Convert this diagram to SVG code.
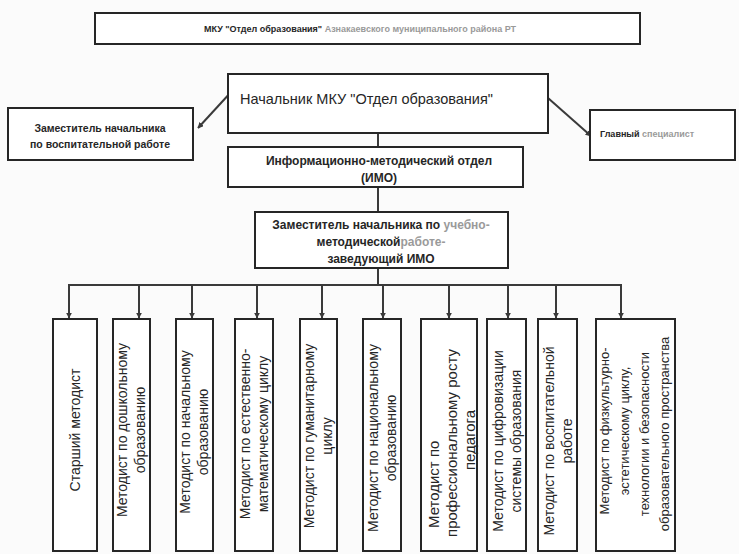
<svg xmlns="http://www.w3.org/2000/svg" width="739" height="554" viewBox="0 0 739 554">
<style>
.box{fill:#ffffff;stroke:#262626;stroke-width:2}
.t{font-family:"Liberation Sans",Arial,sans-serif;fill:#262626}
.b{font-weight:bold}
.g{fill:#9a9a9a}
.v{font-size:14px;text-anchor:middle}
.c{stroke:#3a3a3a;stroke-width:2;fill:none}
</style>
<defs>
<marker id="ah" viewBox="0 0 10 10" refX="9" refY="5" markerWidth="6" markerHeight="6" orient="auto" markerUnits="userSpaceOnUse">
<path d="M0,0 L10,5 L0,10 z" fill="#3a3a3a"/>
</marker>
</defs>
<rect width="739" height="554" fill="#fbfbfb"/>

<g id="connectors">
<line class="c" x1="232" y1="91" x2="198" y2="128" marker-end="url(#ah)"/>
<line class="c" x1="548" y1="98" x2="591" y2="136" marker-end="url(#ah)"/>
<line class="c" x1="378" y1="133" x2="378" y2="147"/>
<line class="c" x1="378" y1="187" x2="378" y2="212"/>
<line class="c" x1="378" y1="268" x2="378" y2="285"/>
<polyline class="c" points="69,319 69,285 621,285 621,319"/>
<line class="c" x1="69" y1="285" x2="69" y2="318" marker-end="url(#ah)"/>
<line class="c" x1="139" y1="285" x2="139" y2="318" marker-end="url(#ah)"/>
<line class="c" x1="192" y1="285" x2="192" y2="318" marker-end="url(#ah)"/>
<line class="c" x1="257" y1="285" x2="257" y2="318" marker-end="url(#ah)"/>
<line class="c" x1="322" y1="285" x2="322" y2="318" marker-end="url(#ah)"/>
<line class="c" x1="383" y1="285" x2="383" y2="318" marker-end="url(#ah)"/>
<line class="c" x1="449" y1="285" x2="449" y2="318" marker-end="url(#ah)"/>
<line class="c" x1="508" y1="285" x2="508" y2="318" marker-end="url(#ah)"/>
<line class="c" x1="556" y1="285" x2="556" y2="318" marker-end="url(#ah)"/>
<line class="c" x1="621" y1="285" x2="621" y2="318" marker-end="url(#ah)"/>
</g>

<g id="top">
<rect class="box" x="95" y="13" width="545" height="31"/>
<text class="t b" x="204" y="32" font-size="9">МКУ "Отдел образования" <tspan class="g">Азнакаевского муниципального района РТ</tspan></text>
</g>

<g id="chief">
<rect class="box" x="228" y="74" width="320" height="59"/>
<text class="t" x="240" y="104" font-size="14.5">Начальник МКУ "Отдел образования"</text>
</g>

<g id="deputy-edu">
<rect class="box" x="8" y="108" width="185" height="52"/>
<text class="t b" x="100" y="132" font-size="10.5" text-anchor="middle">Заместитель начальника</text>
<text class="t b" x="100" y="148" font-size="10.5" text-anchor="middle">по воспитательной работе</text>
</g>

<g id="chief-spec">
<rect class="box" x="590" y="110" width="145" height="50"/>
<text class="t b" x="600" y="137" font-size="9">Главный <tspan class="g">специалист</tspan></text>
</g>

<g id="imo">
<rect class="box" x="228" y="147" width="295" height="40"/>
<text class="t b" x="379" y="165" font-size="12" text-anchor="middle">Информационно-методический отдел</text>
<text class="t b" x="379" y="182" font-size="12" text-anchor="middle">(ИМО)</text>
</g>

<g id="deputy-imo">
<rect class="box" x="255" y="212" width="253" height="56"/>
<text class="t b" x="381" y="229" font-size="12" text-anchor="middle">Заместитель начальника по <tspan class="g">учебно-</tspan></text>
<text class="t b" x="381" y="246" font-size="12" text-anchor="middle">методической<tspan class="g">работе-</tspan></text>
<text class="t b" x="381" y="263" font-size="12" text-anchor="middle">заведующий ИМО</text>
</g>

<g id="m1">
<rect class="box" x="53" y="319" width="44" height="232"/>
<text class="t v" transform="translate(80,430) rotate(-90)">Старший методист</text>
</g>
<g id="m2">
<rect class="box" x="113" y="319" width="37" height="232"/>
<text class="t v" transform="translate(127,430) rotate(-90)">Методист по дошкольному</text>
<text class="t v" transform="translate(145,430) rotate(-90)">образованию</text>
</g>
<g id="m3">
<rect class="box" x="176" y="319" width="37" height="232"/>
<text class="t v" transform="translate(190,432) rotate(-90)">Методист по начальному</text>
<text class="t v" transform="translate(208,432) rotate(-90)">образованию</text>
</g>
<g id="m4">
<rect class="box" x="235" y="319" width="38" height="232"/>
<text class="t v" transform="translate(250,434) rotate(-90)">Методист по естественно-</text>
<text class="t v" transform="translate(268,434) rotate(-90)">математическому циклу</text>
</g>
<g id="m5">
<rect class="box" x="300" y="319" width="37" height="232"/>
<text class="t v" transform="translate(314,436) rotate(-90)">Методист по гуманитарному</text>
<text class="t v" transform="translate(332,436) rotate(-90)">циклу</text>
</g>
<g id="m6">
<rect class="box" x="363" y="319" width="38" height="232"/>
<text class="t v" transform="translate(378,438) rotate(-90)">Методист по национальному</text>
<text class="t v" transform="translate(396,438) rotate(-90)">образованию</text>
</g>
<g id="m7">
<rect class="box" x="421" y="319" width="56" height="232"/>
<text class="t" font-size="15" transform="translate(439,528) rotate(-90)">Методист по</text>
<text class="t" font-size="15" text-anchor="middle" transform="translate(457,443) rotate(-90)">профессиональному росту</text>
<text class="t" font-size="15" text-anchor="middle" transform="translate(475,440) rotate(-90)">педагога</text>
</g>
<g id="m8">
<rect class="box" x="487" y="319" width="39" height="232"/>
<text class="t v" transform="translate(503,441) rotate(-90)">Методист по цифровизации</text>
<text class="t v" transform="translate(521,441) rotate(-90)">системы образования</text>
</g>
<g id="m9">
<rect class="box" x="538" y="319" width="39" height="232"/>
<text class="t v" transform="translate(554,441) rotate(-90)">Методист по воспитательной</text>
<text class="t v" transform="translate(572,441) rotate(-90)">работе</text>
</g>
<g id="m10">
<rect class="box" x="596" y="319" width="79" height="232"/>
<text class="t" font-size="13" text-anchor="middle" transform="translate(609,431) rotate(-90)">Методист по физкультурно-</text>
<text class="t" font-size="13" text-anchor="middle" transform="translate(629,431) rotate(-90)">эстетическому циклу,</text>
<text class="t" font-size="13" text-anchor="middle" transform="translate(649,434) rotate(-90)">технологии и безопасности</text>
<text class="t" font-size="13" text-anchor="middle" transform="translate(669,434) rotate(-90)">образовательного пространства</text>
</g>
</svg>
